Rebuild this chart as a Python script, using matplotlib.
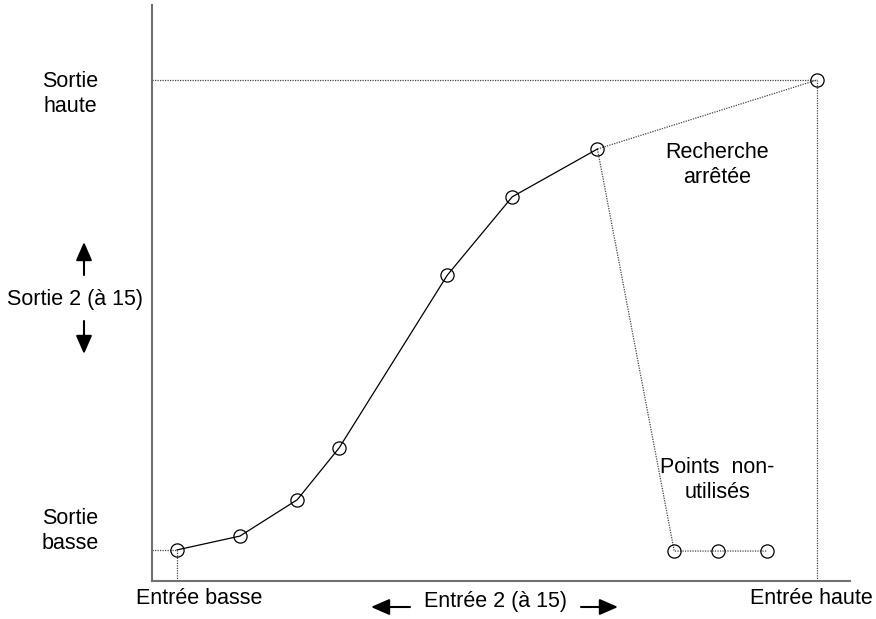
import matplotlib.pyplot as plt
from matplotlib.patches import FancyArrowPatch

# Search path (solid), on a 0-100 scale for entry (x) and output (y)
search_x = [3.6, 12.6, 20.8, 26.8, 42.3, 51.6, 63.8]
search_y = [5.4, 7.8, 14.1, 23.1, 53.1, 66.7, 75.0]

# High corner point (entry haute / sortie haute)
high_x = [95.3]
high_y = [87.0]

# Unused points
unused_x = [74.8, 81.1, 88.1]
unused_y = [5.2, 5.2, 5.2]

plt.rcParams['font.family'] = ['Liberation Sans', 'DejaVu Sans']
fs = 15.5

fig = plt.figure(figsize=(8.76, 6.19), dpi=100)
ax = fig.add_axes([0.1735, 0.0614, 0.797, 0.9305])
ax.set_xlim(0, 100)
ax.set_ylim(0, 100)
ax.set_xticks([])
ax.set_yticks([])
for side in ['top', 'right']:
    ax.spines[side].set_visible(False)
for side in ['left', 'bottom']:
    ax.spines[side].set_color('#707070')
    ax.spines[side].set_linewidth(1.5)

dot = dict(color='#444444', linestyle=(0, (1, 1)), linewidth=0.9)
mk = dict(marker='o', markersize=9.5, markerfacecolor='none',
          markeredgecolor='black', markeredgewidth=0.9)

# guide lines for low and high corners
ax.plot([0, search_x[0]], [search_y[0], search_y[0]], **dot)
ax.plot([search_x[0], search_x[0]], [0, search_y[0]], **dot)
ax.plot([0, high_x[0]], [high_y[0], high_y[0]], **dot)
ax.plot([high_x[0], high_x[0]], [0, high_y[0]], **dot)

# dotted links
ax.plot([search_x[-1], high_x[0]], [search_y[-1], high_y[0]], **dot)
ax.plot([search_x[-1]] + unused_x, [search_y[-1]] + unused_y, **dot)

# solid search path
ax.plot(search_x, search_y, color='black', linewidth=0.9, **mk)
ax.plot(high_x, high_y, linestyle='none', **mk)
ax.plot(unused_x, unused_y, linestyle='none', **mk)

# labels in figure pixel coords
def px(x, y):
    return (x / 876, 1 - y / 619)

fig.text(*px(70, 94), 'Sortie\nhaute', ha='center', va='center', fontsize=fs, linespacing=1.25)
fig.text(*px(75, 299), 'Sortie 2 (à 15)', ha='center', va='center', fontsize=fs)
fig.text(*px(70, 531), 'Sortie\nbasse', ha='center', va='center', fontsize=fs, linespacing=1.25)
fig.text(*px(199, 598), 'Entrée basse', ha='center', va='center', fontsize=fs)
fig.text(*px(495, 601), 'Entrée 2 (à 15)', ha='center', va='center', fontsize=fs)
fig.text(*px(811, 598), 'Entrée haute', ha='center', va='center', fontsize=fs)
fig.text(*px(717, 165), 'Recherche\narrêtée', ha='center', va='center', fontsize=fs, linespacing=1.25)
fig.text(*px(717, 480), 'Points  non-\nutilisés', ha='center', va='center', fontsize=fs, linespacing=1.25)

for start, end in [((84, 275), (84, 242)), ((84, 321), (84, 354)),
                   ((410, 607), (371, 607)), ((581, 607), (618, 607))]:
    fig.add_artist(FancyArrowPatch(
        px(*start), px(*end), transform=fig.transFigure,
        arrowstyle='-|>,head_length=0.8,head_width=0.35',
        mutation_scale=14, color='black', lw=1.5, shrinkA=0, shrinkB=0))

fig.savefig('out.png', dpi=100)
